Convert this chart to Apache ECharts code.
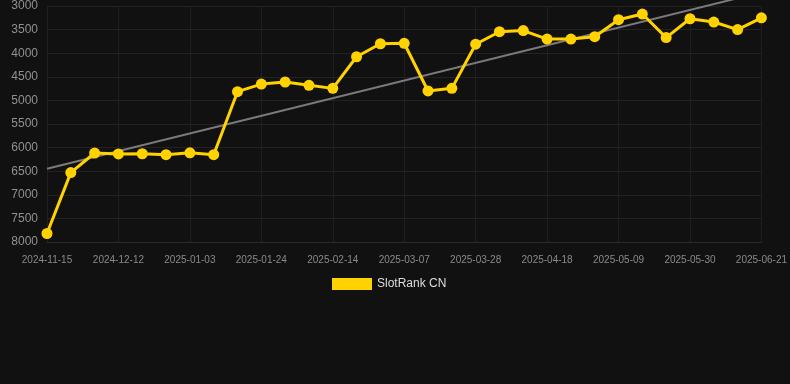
<!DOCTYPE html>
<html>
<head>
<meta charset="utf-8">
<script src="https://cdn.jsdelivr.net/npm/echarts@6/dist/echarts.min.js"></script>
<style>
html,body{margin:0;padding:0;background:#111111;}
#c{width:790px;height:384px;}
</style>
</head>
<body>
<div id="c"></div>
<script>
var dates = [
  '2024-11-15','2024-11-22','2024-11-29','2024-12-12','2024-12-19','2024-12-27',
  '2025-01-03','2025-01-10','2025-01-17','2025-01-24','2025-01-31','2025-02-07',
  '2025-02-14','2025-02-21','2025-02-28','2025-03-07','2025-03-14','2025-03-21',
  '2025-03-28','2025-04-04','2025-04-11','2025-04-18','2025-04-25','2025-05-02',
  '2025-05-09','2025-05-16','2025-05-23','2025-05-30','2025-06-06','2025-06-13',
  '2025-06-21'
];
var rankValues = [
  7820, 6530, 6115, 6135, 6130, 6150, 6110, 6150, 4815, 4655, 4610,
  4680, 4745, 4075, 3800, 3790, 4800, 4745, 3810, 3545, 3520, 3700,
  3700, 3650, 3290, 3170, 3670, 3270, 3340, 3500, 3250
];
var trendStart = [0, 6450];
var trendEnd = [30, 2710];
var yTicks = [3000, 3500, 4000, 4500, 5000, 5500, 6000, 6500, 7000, 7500, 8000];

var chart = echarts.init(document.getElementById('c'), null, {renderer: 'canvas'});
chart.setOption({
  backgroundColor: '#111111',
  animation: false,
  grid: {left: 47, right: 28, top: 6, bottom: 142, containLabel: false},
  legend: {
    top: 273,
    left: 327,
    itemWidth: 40,
    itemHeight: 12,
    itemGap: 10,
    icon: 'rect',
    textStyle: {color: '#dddddd', fontSize: 12, fontFamily: 'Arial, Liberation Sans, sans-serif'},
    data: [{name: 'SlotRank CN', itemStyle: {color: '#ffd200'}}]
  },
  xAxis: {
    type: 'category',
    data: dates,
    boundaryGap: false,
    axisLine: {show: true, lineStyle: {color: '#2a2a2a'}},
    axisTick: {show: false},
    axisLabel: {
      interval: 2,
      color: '#8a8a8a',
      fontSize: 10,
      margin: 13,
      fontFamily: 'Arial, Liberation Sans, sans-serif'
    },
    splitLine: {show: true, interval: 2, lineStyle: {color: '#1f1f1f', width: 1}}
  },
  yAxis: {
    type: 'value',
    inverse: true,
    min: yTicks[0],
    max: yTicks[yTicks.length - 1],
    interval: 500,
    axisLine: {show: false},
    axisTick: {show: false},
    axisLabel: {
      color: '#919191',
      fontSize: 12,
      margin: 9,
      formatter: function (v) { return String(v); },
      fontFamily: 'Arial, Liberation Sans, sans-serif'
    },
    splitLine: {show: true, lineStyle: {color: '#222222', width: 1}}
  },
  series: [
    {
      name: 'Trend',
      type: 'line',
      data: [trendStart, trendEnd],
      clip: false,
      symbol: 'none',
      silent: true,
      lineStyle: {color: '#7a7a7a', width: 2},
      z: 1
    },
    {
      name: 'SlotRank CN',
      type: 'line',
      data: rankValues,
      symbol: 'circle',
      symbolSize: 11,
      clip: false,
      itemStyle: {color: '#ffd200'},
      lineStyle: {color: '#ffd200', width: 3},
      z: 3
    }
  ]
});
</script>
</body>
</html>
